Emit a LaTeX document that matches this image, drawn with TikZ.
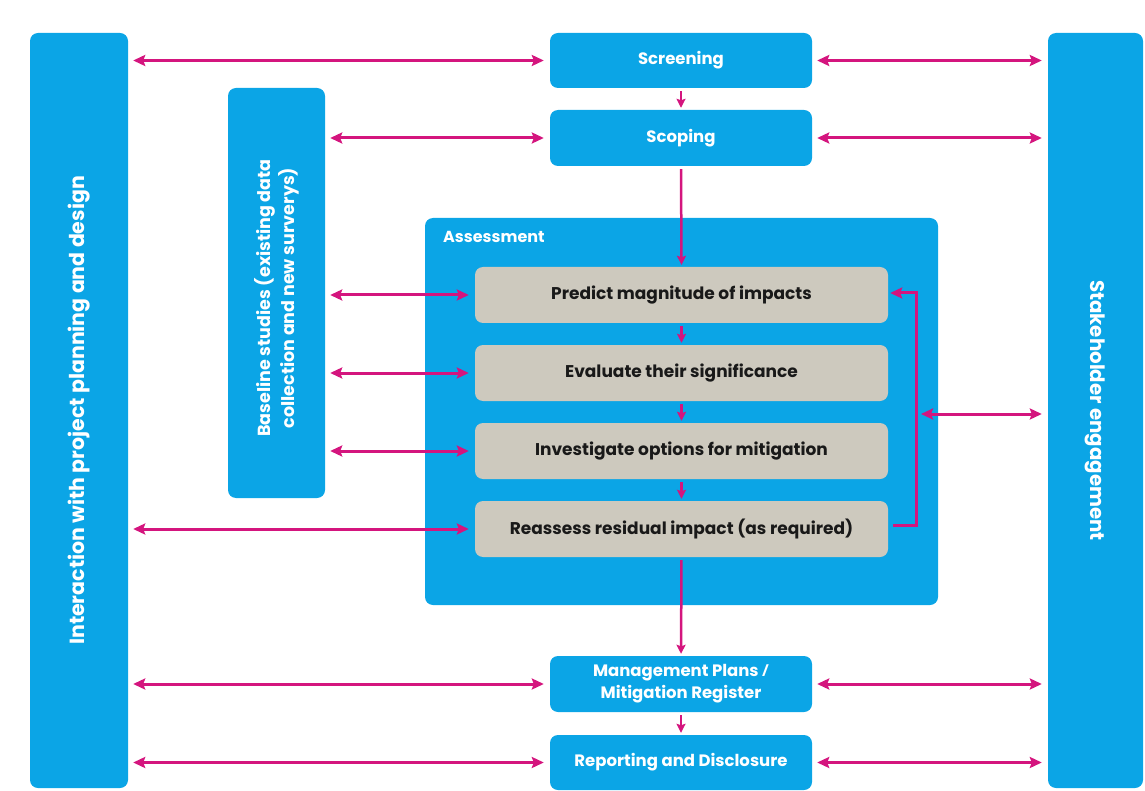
\documentclass[tikz,border=0pt]{standalone}
\usepackage{fontspec}
\setmainfont{Poppins}
\newfontfamily\slashfont{Open Sans}
\usetikzlibrary{arrows.meta,calc}
\definecolor{eiablue}{HTML}{0BA5E6}
\definecolor{eiagray}{HTML}{CDC9BE}
\definecolor{eiamag}{HTML}{D4157E}
\begin{document}
\begin{tikzpicture}[x=1pt,y=-1pt,
  bluebox/.style={fill=eiablue,draw=none,rounded corners=8pt,text=white,font=\bfseries\fontsize{16.5}{21}\selectfont,align=center,inner sep=0pt},
  graybox/.style={fill=eiagray,draw=none,rounded corners=8pt,text=black!90,font=\bfseries\fontsize{17}{20}\selectfont,minimum width=413pt,minimum height=56pt,inner sep=0pt},
  bartext/.style={text=white,font=\bfseries\fontsize{20.5}{24}\selectfont,align=center},
  arr/.style={draw=eiamag,line width=3pt,{Stealth[length=12pt,width=11pt,inset=2pt]}-{Stealth[length=12pt,width=11pt,inset=2pt]},shorten <=5pt,shorten >=6pt},
  down/.style={draw=eiamag,line width=2.5pt,-{Stealth[length=9pt,width=9pt,inset=1.5pt]},shorten <=3pt,shorten >=2pt},
  loopar/.style={draw=eiamag,line width=3pt,-{Stealth[length=12pt,width=11pt,inset=2pt]}}]
\useasboundingbox (0,0) rectangle (1145,791);
% bars
\node[bluebox,minimum width=98pt,minimum height=755pt] (left) at (79,410.5) {};
\node[bartext,rotate=90] (lefttext) at (left.center) {Interaction with project planning and design};
\node[bluebox,minimum width=95pt,minimum height=755pt] (right) at (1095.5,410.5) {};
\node[bartext,rotate=-90,font=\bfseries\fontsize{19.8}{24}\selectfont] (righttext) at (right.center) {Stakeholder engagement};
\node[bluebox,minimum width=97pt,minimum height=410pt] (base) at (276.5,293) {};
\node[bartext,rotate=90,font=\bfseries\fontsize{17.5}{24}\selectfont] (basetext) at ([yshift=-5pt]base.center) {Baseline studies (existing data\\collection and new surverys)};
% center column
\node[bluebox,minimum width=262pt,minimum height=55pt] (screen) at (681,60.5) {Screening};
\node[bluebox,minimum width=262pt,minimum height=56pt] (scope) at (681,138) {Scoping};
\node[fill=eiablue,rounded corners=8pt,minimum width=513pt,minimum height=387pt,inner sep=0pt] (assess) at (681.5,411.5) {};
\node[anchor=west,text=white,font=\bfseries\fontsize{16}{19}\selectfont,inner sep=0pt] (assesslbl) at (443,237) {Assessment};
\node[graybox] (predict) at (681.5,295) {Predict magnitude of impacts};
\node[graybox] (evaluate) at (681.5,373) {Evaluate their significance};
\node[graybox] (invest) at (681.5,451) {Investigate options for mitigation};
\node[graybox] (reassess) at (681.5,529) {Reassess residual impact (as required)};
\node[bluebox,minimum width=262pt,minimum height=56pt,font=\bfseries\fontsize{16.5}{22}\selectfont] (manage) at (681,684) {Management Plans {\slashfont\bfseries /}\\Mitigation Register};
\node[bluebox,minimum width=262pt,minimum height=55pt] (report) at (681,762.5) {Reporting and Disclosure};
% horizontal connectors
\draw[arr] (left.east |- screen) -- (screen.west);
\draw[arr] (screen.east) -- (right.west |- screen);
\draw[arr] (base.east |- scope) -- (scope.west);
\draw[arr] (scope.east) -- (right.west |- scope);
\draw[arr] (base.east |- predict) -- (predict.west);
\draw[arr] (base.east |- evaluate) -- (evaluate.west);
\draw[arr] (base.east |- invest) -- (invest.west);
\draw[arr] (left.east |- reassess) -- (reassess.west);
\draw[arr] (left.east |- manage) -- (manage.west);
\draw[arr] (manage.east) -- (right.west |- manage);
\draw[arr] (left.east |- report) -- (report.west);
\draw[arr] (report.east) -- (right.west |- report);
% vertical connectors
\draw[down] (screen.south) -- (scope.north);
\draw[down] (scope.south) -- (predict.north);
\draw[down] (predict.south) -- (evaluate.north);
\draw[down] (evaluate.south) -- (invest.north);
\draw[down] (invest.south) -- (reassess.north);
\draw[down] (reassess.south) -- (manage.north);
\draw[down] (manage.south) -- (report.north);
% feedback loop
\draw[loopar] ([xshift=5pt,yshift=4pt]reassess.east) -- ++(23,0) |- ([xshift=2pt,yshift=2pt]predict.east);
\coordinate (brk) at (910,414);
\draw[arr,shorten <=11pt] (brk) -- (right.west |- brk);
\end{tikzpicture}
\end{document}
